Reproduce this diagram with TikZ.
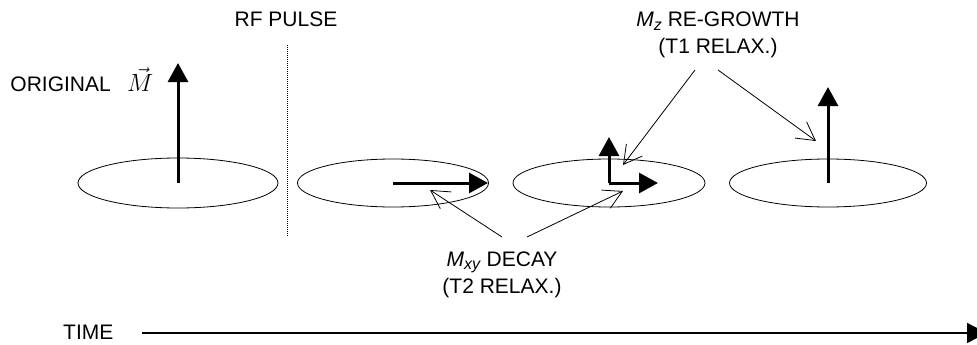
\documentclass[tikz,border=0pt]{standalone}
\usepackage{fontspec}
\setmainfont{Liberation Sans}
\usetikzlibrary{arrows.meta,shapes.geometric}
\begin{document}
\begin{tikzpicture}[x=1pt,y=-1pt,
  lbl/.style={inner sep=0pt,font=\fontsize{21}{24}\selectfont},
  disc/.style={draw,ellipse,inner sep=0pt,line width=0.8pt},
  vec/.style={line width=3pt,-{Triangle[length=19pt,width=20pt]}},
  conn/.style={line width=0.8pt,-{Straight Barb[length=18pt,width=20pt,line width=0.8pt]}}]
\clip (0,0) rectangle (977,345);
\useasboundingbox (0,0) rectangle (977,345);
% discs
\node[disc,minimum width=200pt,minimum height=50pt] (e1) at (178,183) {};
\node[disc,minimum width=191pt,minimum height=48pt] (e2) at (393,183) {};
\node[disc,minimum width=192pt,minimum height=48pt] (e3) at (609,183) {};
\node[disc,minimum width=197pt,minimum height=48pt] (e4) at (828,183) {};
% vector tips
\coordinate (t1) at (178,63);
\coordinate (t2) at (488,183);
\coordinate (t3v) at (609,137);
\coordinate (t3h) at (658,183);
\coordinate (t4) at (828,87);
\draw[vec] (e1.center) -- (t1);
\draw[vec] (e2.center) -- (t2);
\draw[vec] (e3.center) -- (t3v);
\draw[vec] (e3.center) -- (t3h);
\draw[vec] (e4.center) -- (t4);
% RF pulse
\node[lbl,anchor=base] (rf) at (286,27) {RF PULSE};
\coordinate (d1) at (287,45);
\coordinate (d2) at (287,236);
\draw[line width=0.8pt,dash pattern=on 1pt off 1pt] (d1) -- (d2);
% original
\node[lbl,anchor=base east] (orig) at (111,92) {ORIGINAL};
\node[inner sep=0pt,anchor=base west,font=\fontsize{23}{26}\selectfont] (mvec) at (127,92) {$\vec{M}$};
% Mz label
\node[lbl,anchor=base] (mz) at (718,27) {\textit{M}\raisebox{-0.3ex}{\fontsize{16}{16}\selectfont\textit{z}} RE-GROWTH};
\node[lbl,anchor=base] (t1r) at (718,54) {(T1 RELAX.)};
\coordinate (mzs1) at (695,70);
\coordinate (mzs2) at (718,70);
\coordinate (mzt1) at (623,165);
\coordinate (mzt2) at (816,141);
\draw[conn] (mzs1) -- (mzt1);
\draw[conn] (mzs2) -- (mzt2);
% Mxy label
\node[lbl,anchor=base] (mxy) at (502,266) {\textit{M}\raisebox{-0.3ex}{\fontsize{16}{16}\selectfont\textit{xy}} DECAY};
\node[lbl,anchor=base] (t2r) at (502,293) {(T2 RELAX.)};
\coordinate (mxs1) at (502,237);
\coordinate (mxs2) at (527,237);
\coordinate (mxt1) at (430,190);
\coordinate (mxt2) at (623,191);
\draw[conn] (mxs1) -- (mxt1);
\draw[conn] (mxs2) -- (mxt2);
% time axis
\node[lbl,anchor=base west] (time) at (63,339) {TIME};
\coordinate (ta) at (142,333);
\coordinate (tb) at (987,333);
\draw[line width=1.3pt,-{Triangle[length=20pt,width=20pt]}] (ta) -- (tb);
\end{tikzpicture}
\end{document}
